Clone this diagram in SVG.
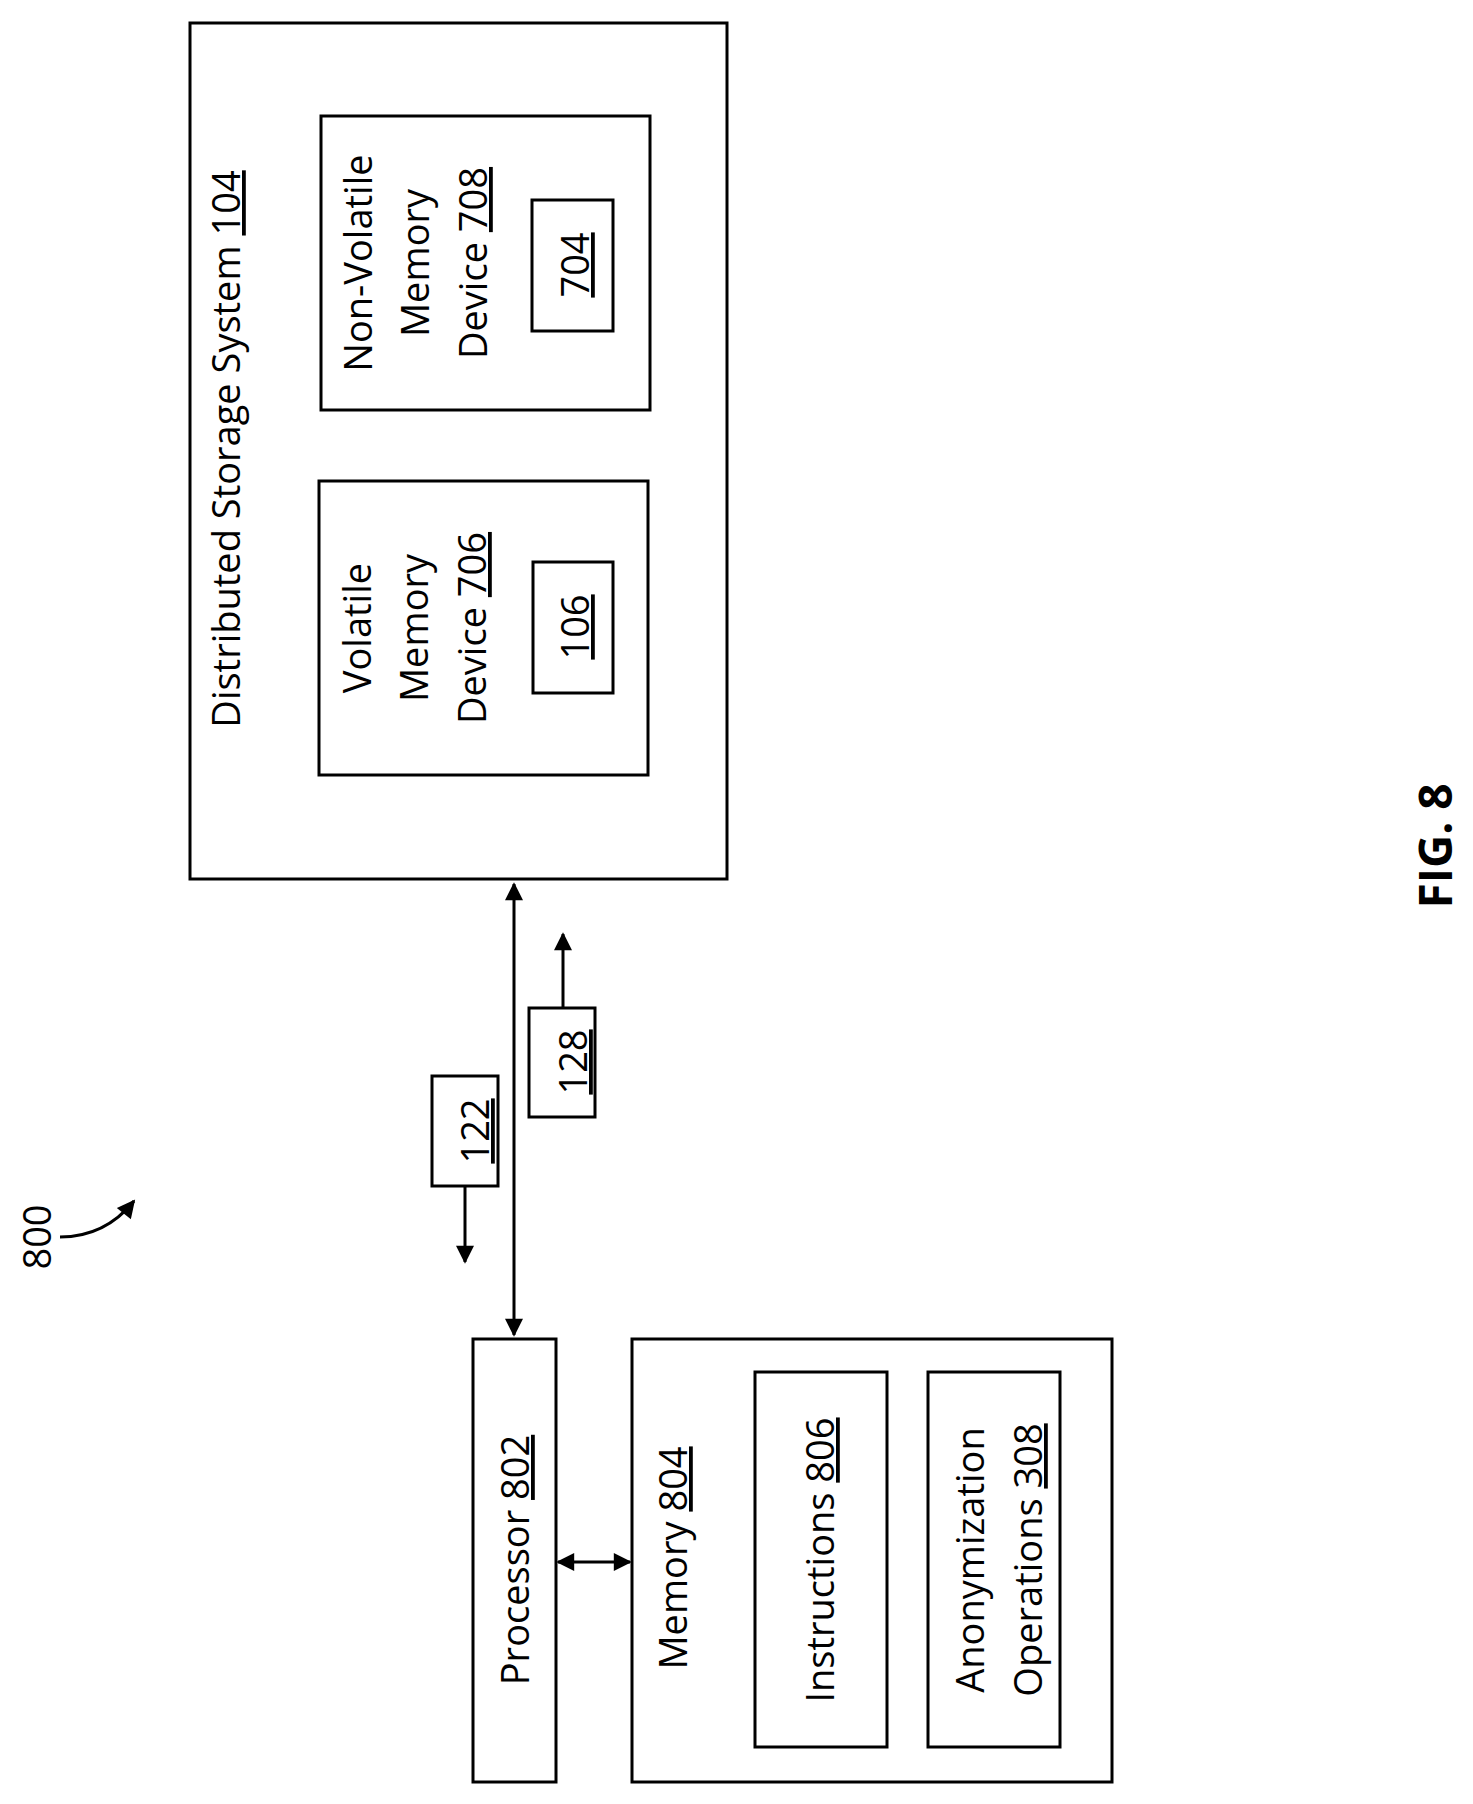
<svg xmlns="http://www.w3.org/2000/svg" width="1473" height="1804" viewBox="0 0 1473 1804">
<style>
rect{fill:#fff;stroke:#000;stroke-width:3}
text{font-family:"Open Sans","Liberation Sans",sans-serif;font-size:38px;fill:#000;text-anchor:middle}
.u{text-decoration:underline}
.ln{stroke:#000;stroke-width:3;fill:none}
</style>
<defs><marker id="a" viewBox="0 0 10 10" refX="9" refY="5" markerWidth="7" markerHeight="6" orient="auto-start-reverse"><path d="M0,0L10,5L0,10z"/></marker></defs>
<rect width="1473" height="1804" style="stroke:none"/>
<g id="dss"><rect x="190" y="23" width="537" height="856"/>
<text transform="rotate(-90 240 449)" x="240" y="449">Distributed Storage System <tspan class="u">104</tspan></text></g>
<g id="vol"><rect x="319" y="481" width="329" height="294"/>
<text transform="rotate(-90 371 628)" x="371" y="628">Volatile</text>
<text transform="rotate(-90 428 628)" x="428" y="628">Memory</text>
<text transform="rotate(-90 486 628)" x="486" y="628">Device <tspan class="u">706</tspan></text></g>
<g id="n106"><rect x="533" y="562" width="80" height="131"/><text transform="rotate(-90 589 627)" x="589" y="627" class="u">106</text></g>
<g id="nv"><rect x="321" y="116" width="329" height="294"/>
<text transform="rotate(-90 372 263)" x="372" y="263">Non-Volatile</text>
<text transform="rotate(-90 429 263)" x="429" y="263">Memory</text>
<text transform="rotate(-90 487 263)" x="487" y="263">Device <tspan class="u">708</tspan></text></g>
<g id="n704"><rect x="532" y="200" width="81" height="131"/><text transform="rotate(-90 589 265)" x="589" y="265" class="u">704</text></g>
<g id="n122"><rect x="432" y="1076" width="66" height="110"/><text transform="rotate(-90 489 1131)" x="489" y="1131" class="u">122</text></g>
<g id="n128"><rect x="529" y="1008" width="66" height="109"/><text transform="rotate(-90 587 1062)" x="587" y="1062" class="u">128</text></g>
<g id="proc"><rect x="473" y="1339" width="83" height="443"/><text transform="rotate(-90 529 1560)" x="529" y="1560">Processor <tspan class="u">802</tspan></text></g>
<g id="mem"><rect x="632" y="1339" width="480" height="443"/><text transform="rotate(-90 687 1558)" x="687" y="1558">Memory <tspan class="u">804</tspan></text></g>
<g id="instr"><rect x="755" y="1372" width="132" height="375"/><text transform="rotate(-90 834 1560)" x="834" y="1560">Instructions <tspan class="u">806</tspan></text></g>
<g id="anon"><rect x="928" y="1372" width="132" height="375"/>
<text transform="rotate(-90 984 1560)" x="984" y="1560">Anonymization</text>
<text transform="rotate(-90 1042 1560)" x="1042" y="1560">Operations <tspan class="u">308</tspan></text></g>
<g id="lbl800"><text transform="rotate(-90 51 1237)" x="51" y="1237">800</text></g>
<g id="fig"><text transform="rotate(-90 1452 846)" x="1452" y="846" style="font-weight:bold;font-size:46px">FIG. 8</text></g>
<g id="connectors">
<line class="ln" x1="514" y1="884" x2="514" y2="1335" marker-start="url(#a)" marker-end="url(#a)"/>
<line class="ln" x1="465" y1="1186" x2="465" y2="1262" marker-end="url(#a)"/>
<line class="ln" x1="563" y1="1008" x2="563" y2="934" marker-end="url(#a)"/>
<line class="ln" x1="558" y1="1562" x2="630" y2="1562" marker-start="url(#a)" marker-end="url(#a)"/>
<path class="ln" d="M60,1237 Q105,1237 134,1201" marker-end="url(#a)"/>
</g>
</svg>
